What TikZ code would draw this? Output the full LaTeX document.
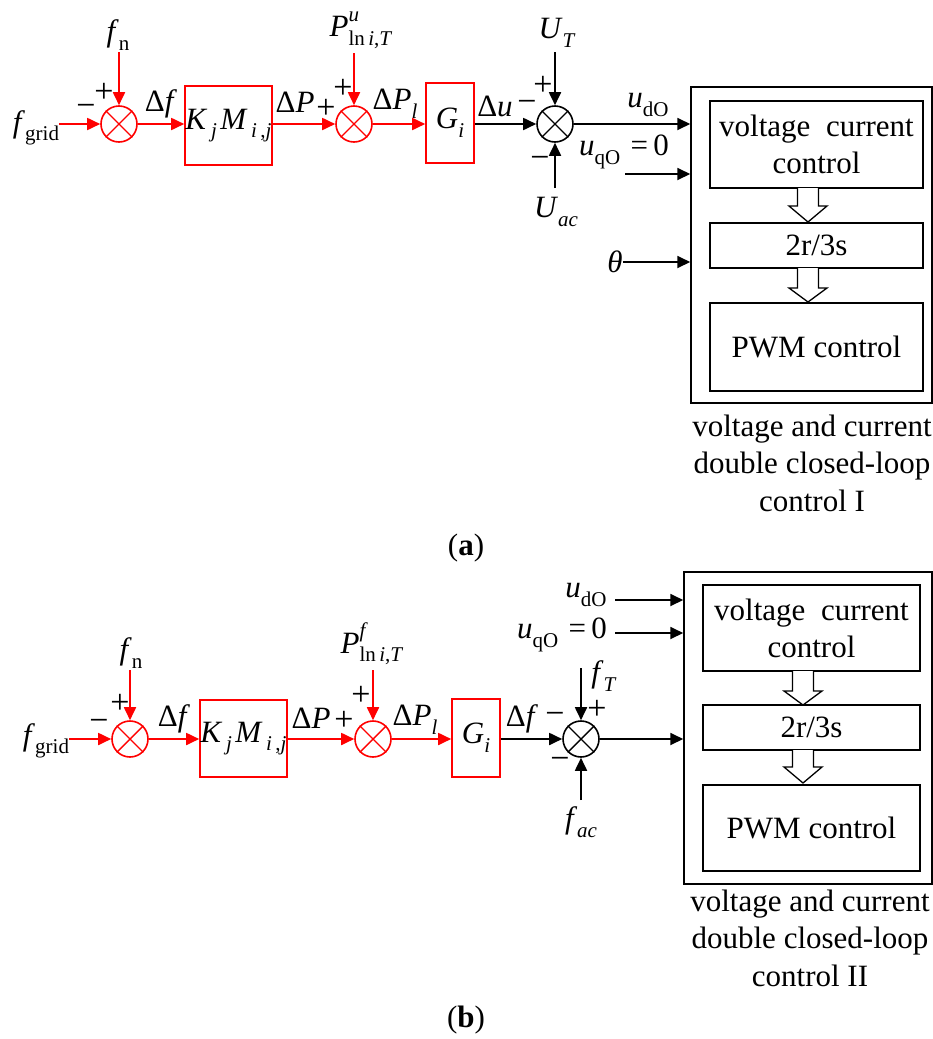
\documentclass[tikz,border=0pt]{standalone}
\usepackage{fontspec}
\setmainfont{Liberation Serif}
\usetikzlibrary{arrows.meta,calc}
\newcommand\msub[1]{\raisebox{-0.28em}{\fontsize{21}{21}\selectfont #1}}
\newcommand\msup[1]{\raisebox{0.5em}{\fontsize{21}{21}\selectfont #1}}
\newcommand\msubsup[2]{\makebox[0pt][l]{\msup{#2}}\msub{#1}}
\newcommand\sumcross[2]{\draw[#2, line width=1.4pt] (#1.north east) -- (#1.south west) (#1.north west) -- (#1.south east);}
\newcommand\hollowarr[4]{\draw[line width=1.3pt, fill=white] (#1-10.5,#2) -- (#1-10.5,#3) -- (#1-19,#3) -- (#1,#4) -- (#1+19,#3) -- (#1+10.5,#3) -- (#1+10.5,#2);}
\begin{document}
\begin{tikzpicture}[x=1pt,y=-1pt,
  lab/.style={inner sep=0pt, font=\fontsize{31}{33}\selectfont},
  sgn/.style={inner sep=0pt, font=\fontsize{34}{34}\selectfont},
  txt/.style={inner sep=0pt, align=center, font=\fontsize{31}{37}\selectfont},
  captxt/.style={inner sep=0pt, align=center, font=\fontsize{31}{37.5}\selectfont},
  rl/.style={draw=red, line width=1.8pt},
  ra/.style={rl, -{Triangle[length=13pt,width=12pt]}},
  ba/.style={draw=black, line width=1.8pt, -{Triangle[length=13pt,width=12pt]}},
  sumr/.style={circle, draw=red, line width=1.6pt, minimum size=36pt, inner sep=0pt},
  sumb/.style={circle, draw=black, line width=1.6pt, minimum size=36pt, inner sep=0pt},
  rbox/.style={draw=red, line width=1.6pt, inner sep=0pt},
  bbox/.style={draw=black, line width=1.6pt, inner sep=0pt},
]
\useasboundingbox (0,0) rectangle (933,1039);

% ================= panel (a) =================
\node[sumr] (aS1) at (119,124) {};
\node[sumr] (aS2) at (354,124) {};
\node[sumb] (aS3) at (555,124) {};
\sumcross{aS1}{red}
\sumcross{aS2}{red}
\sumcross{aS3}{black}
\node[rbox, minimum width=87pt, minimum height=79pt] (aK) at (228.5,125.5) {};
\node[lab] at (aK) {\textit{K}\msub{\,\textit{j}\,}\textit{M}\msub{\,\textit{i}\,,\textit{j}}};
\node[rbox, minimum width=48pt, minimum height=80pt] (aG) at (450,123) {};
\node[lab] at (aG) {\textit{G}\msub{\textit{i}}};

\node[lab] (afgrid) at (36,128) {\textit{f}\msub{grid}};
\node[lab] (afn) at (118,35) {\textit{f}\msub{n}};
\coordinate (afnS) at (119,52);
\node[sgn] at (86,110) {−};
\node[sgn] at (104,93) {+};
\node[lab] at (161,104) {Δ\textit{f}};
\node[lab] at (295,102) {Δ\textit{P}};
\node[sgn] at (326,109) {+};
\node[sgn] at (343,89) {+};
\node[lab] (aPu) at (361,30) {\textit{P}\msubsup{ln\,\textit{i},\textit{T}}{\textit{u}}};
\coordinate (aPuS) at (354,53);
\node[lab] at (395,104) {Δ\textit{P}\msub{\textit{l}}};
\node[lab] at (495,106) {Δ\textit{u}};
\node[sgn] at (527,106) {−};
\node[sgn] at (543,86) {+};
\node[lab] (aUT) at (557,33) {\textit{U}\msub{\textit{T}}};
\coordinate (aUTS) at (555,52);
\node[lab] (aUac) at (556,212) {\textit{U}\msub{\textit{ac}}};
\coordinate (aUacS) at (555,188);
\node[sgn] at (540,162) {−};

\draw[ra] (afgrid.east |- aS1) -- (aS1.west);
\draw[ra] (afnS) -- (aS1.north);
\draw[ra] (aS1.east) -- (aK.west |- aS1);
\draw[ra] (aK.east |- aS2) -- (aS2.west);
\draw[ra] (aPuS) -- (aS2.north);
\draw[ra] (aS2.east) -- (aG.west |- aS2);
\draw[ba] (aG.east |- aS3) -- (aS3.west);
\draw[ba] (aUTS) -- (aS3.north);
\draw[ba] (aUacS) -- (aS3.south);

% control block (a)
\node[draw=black, line width=1.5pt, minimum width=241pt, minimum height=316pt, inner sep=0pt] (aB) at (811.5,245) {};
\node[bbox, minimum width=213pt, minimum height=87pt] (aB1) at (816.5,144.5) {};
\node[txt] at (aB1) {voltage\ \ current\\control};
\node[bbox, minimum width=213pt, minimum height=45pt] (aB2) at (816.5,245.5) {};
\node[txt] at (aB2) {2r/3s};
\node[bbox, minimum width=213pt, minimum height=88pt] (aB3) at (816.5,347) {};
\node[txt] at (aB3) {PWM control};
\hollowarr{808}{188}{206}{222}
\hollowarr{808}{268}{288}{302}

\node[lab] at (648,105) {\textit{u}\msub{dO}};
\node[lab] at (624,152) {\textit{u}\msub{qO}\,\,=\,0};
\coordinate (aqS) at (625,174);
\node[lab] (ath) at (615,262) {\textit{θ}};
\draw[ba] (aS3.east) -- (aS3 -| aB.west);
\draw[ba] (aqS) -- (aqS -| aB.west);
\draw[ba] (ath.east |- 0,262) -- (aB.west |- 0,262);

\node[captxt] at (812,463) {voltage and current\\double closed-loop\\control I};
\node[captxt] at (466,548) {(\textbf{a})};

% ================= panel (b) =================
\node[sumr] (bS1) at (130,739) {};
\node[sumr] (bS2) at (373,739) {};
\node[sumb] (bS3) at (581,739) {};
\sumcross{bS1}{red}
\sumcross{bS2}{red}
\sumcross{bS3}{black}
\node[rbox, minimum width=87pt, minimum height=77pt] (bK) at (243.5,738.5) {};
\node[lab] at (bK) {\textit{K}\msub{\,\textit{j}\,}\textit{M}\msub{\,\textit{i}\,,\textit{j}}};
\node[rbox, minimum width=48pt, minimum height=78pt] (bG) at (476,738) {};
\node[lab] at (bG) {\textit{G}\msub{\textit{i}}};

\node[lab] (bfgrid) at (46,741) {\textit{f}\msub{grid}};
\node[lab] (bfn) at (131,653) {\textit{f}\msub{n}};
\coordinate (bfnS) at (130,670);
\node[sgn] at (99,725) {−};
\node[sgn] at (120,704) {+};
\node[lab] at (174,719) {Δ\textit{f}};
\node[lab] at (311,718) {Δ\textit{P}};
\node[sgn] at (344,721) {+};
\node[sgn] at (361,696) {+};
\node[lab] (bPf) at (372,644) {\textit{P}\msubsup{ln\,\textit{i},\textit{T}}{\textit{f}}};
\coordinate (bPfS) at (373,670);
\node[lab] at (415,720) {Δ\textit{P}\msub{\textit{l}}};
\node[lab] at (522,719) {Δ\textit{f}};
\node[sgn] at (555,718) {−};
\node[lab] (bfT) at (604,676) {\textit{f}\msub{\textit{T}}};
\coordinate (bfTS) at (581,668);
\node[sgn] at (597,710) {+};
\node[sgn] at (560,763) {−};
\node[lab] (bfac) at (581,822) {\textit{f}\msub{\textit{ac}}};
\coordinate (bfacS) at (581,800);

\draw[ra] (bfgrid.east |- bS1) -- (bS1.west);
\draw[ra] (bfnS) -- (bS1.north);
\draw[ra] (bS1.east) -- (bK.west |- bS1);
\draw[ra] (bK.east |- bS2) -- (bS2.west);
\draw[ra] (bPfS) -- (bS2.north);
\draw[ra] (bS2.east) -- (bG.west |- bS2);
\draw[ba] (bG.east |- bS3) -- (bS3.west);
\draw[ba] (bfTS) -- (bS3.north);
\draw[ba] (bfacS) -- (bS3.south);

% control block (b)
\node[draw=black, line width=1.5pt, minimum width=248pt, minimum height=312pt, inner sep=0pt] (bB) at (808,728) {};
\node[bbox, minimum width=217pt, minimum height=86pt] (bB1) at (811.5,628) {};
\node[txt] at (bB1) {voltage\ \ current\\control};
\node[bbox, minimum width=217pt, minimum height=45pt] (bB2) at (811.5,727.5) {};
\node[txt] at (bB2) {2r/3s};
\node[bbox, minimum width=217pt, minimum height=86pt] (bB3) at (811.5,828) {};
\node[txt] at (bB3) {PWM control};
\hollowarr{803}{671}{691}{705}
\hollowarr{803}{750}{767}{783}

\node[lab] at (586,595) {\textit{u}\msub{dO}};
\coordinate (bdS) at (615,600);
\node[lab] at (562,635) {\textit{u}\msub{qO}\,\,=\,0};
\coordinate (bqS) at (615,633);
\draw[ba] (bdS) -- (bdS -| bB.west);
\draw[ba] (bqS) -- (bqS -| bB.west);
\draw[ba] (bS3.east) -- (bS3 -| bB.west);

\node[captxt] at (810,938) {voltage and current\\double closed-loop\\control II};
\node[captxt] at (466,1020) {(\textbf{b})};
\end{tikzpicture}
\end{document}
